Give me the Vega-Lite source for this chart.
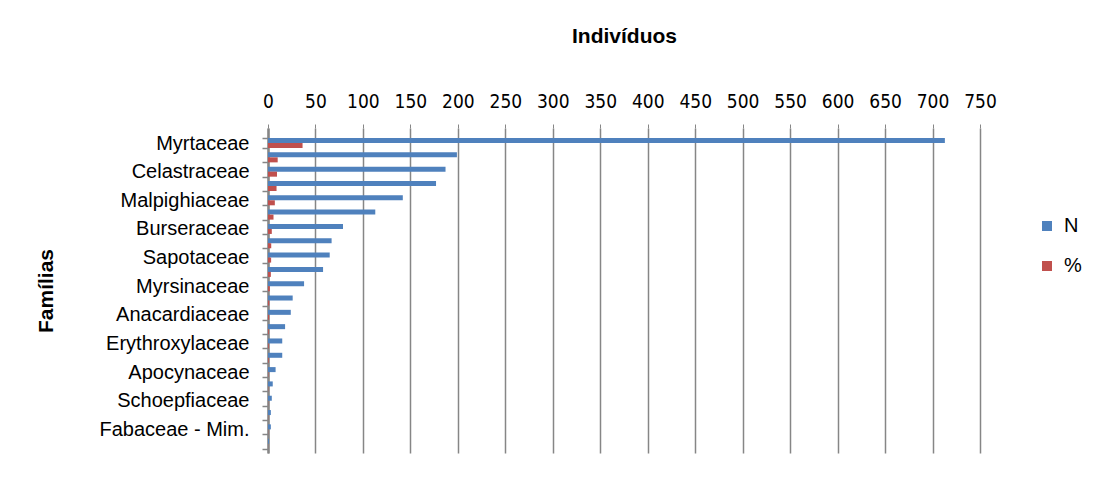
{
  "$schema": "https://vega.github.io/schema/vega-lite/v6.json",
  "autosize": "none",
  "width": 712,
  "height": 325,
  "padding": {"left": 268, "top": 128, "right": 115, "bottom": 24},
  "background": "white",
  "config": {
    "view": {"stroke": null},
    "font": "Liberation Sans",
    "axis": {"labelFont": "Liberation Sans", "titleFont": "Liberation Sans"}
  },
  "data": {
    "values": [
      {"familia": "Myrtaceae", "serie": "N", "valor": 713},
      {"familia": "Myrtaceae", "serie": "%", "valor": 36.4},
      {"familia": "Vochysiaceae", "serie": "N", "valor": 199},
      {"familia": "Vochysiaceae", "serie": "%", "valor": 10.2},
      {"familia": "Celastraceae", "serie": "N", "valor": 187},
      {"familia": "Celastraceae", "serie": "%", "valor": 9.5},
      {"familia": "Rubiaceae", "serie": "N", "valor": 177},
      {"familia": "Rubiaceae", "serie": "%", "valor": 9.0},
      {"familia": "Malpighiaceae", "serie": "N", "valor": 142},
      {"familia": "Malpighiaceae", "serie": "%", "valor": 7.2},
      {"familia": "Lauraceae", "serie": "N", "valor": 113},
      {"familia": "Lauraceae", "serie": "%", "valor": 5.8},
      {"familia": "Burseraceae", "serie": "N", "valor": 79},
      {"familia": "Burseraceae", "serie": "%", "valor": 4.0},
      {"familia": "Annonaceae", "serie": "N", "valor": 67},
      {"familia": "Annonaceae", "serie": "%", "valor": 3.4},
      {"familia": "Sapotaceae", "serie": "N", "valor": 65},
      {"familia": "Sapotaceae", "serie": "%", "valor": 3.3},
      {"familia": "Melastomataceae", "serie": "N", "valor": 58},
      {"familia": "Melastomataceae", "serie": "%", "valor": 3.0},
      {"familia": "Myrsinaceae", "serie": "N", "valor": 38},
      {"familia": "Myrsinaceae", "serie": "%", "valor": 1.9},
      {"familia": "Euphorbiaceae", "serie": "N", "valor": 26},
      {"familia": "Euphorbiaceae", "serie": "%", "valor": 1.3},
      {"familia": "Anacardiaceae", "serie": "N", "valor": 24},
      {"familia": "Anacardiaceae", "serie": "%", "valor": 1.2},
      {"familia": "Salicaceae", "serie": "N", "valor": 18},
      {"familia": "Salicaceae", "serie": "%", "valor": 0.9},
      {"familia": "Erythroxylaceae", "serie": "N", "valor": 15},
      {"familia": "Erythroxylaceae", "serie": "%", "valor": 0.8},
      {"familia": "Sapindaceae", "serie": "N", "valor": 15},
      {"familia": "Sapindaceae", "serie": "%", "valor": 0.8},
      {"familia": "Apocynaceae", "serie": "N", "valor": 8},
      {"familia": "Apocynaceae", "serie": "%", "valor": 0.4},
      {"familia": "Ochnaceae", "serie": "N", "valor": 5},
      {"familia": "Ochnaceae", "serie": "%", "valor": 0.3},
      {"familia": "Schoepfiaceae", "serie": "N", "valor": 4},
      {"familia": "Schoepfiaceae", "serie": "%", "valor": 0.2},
      {"familia": "Connaraceae", "serie": "N", "valor": 3},
      {"familia": "Connaraceae", "serie": "%", "valor": 0.2},
      {"familia": "Fabaceae - Mim.", "serie": "N", "valor": 3},
      {"familia": "Fabaceae - Mim.", "serie": "%", "valor": 0.2},
      {"familia": "Fabaceae - Caes.", "serie": "N", "valor": 1},
      {"familia": "Fabaceae - Caes.", "serie": "%", "valor": 0.1}
    ]
  },
  "mark": {"type": "bar"},
  "encoding": {
    "y": {
      "field": "familia",
      "type": "nominal",
      "sort": null,
      "scale": {"paddingInner": 0.3, "paddingOuter": 0.5, "align": 0.7},
      "axis": {
        "title": "Famílias",
        "titleFontSize": 21,
        "titleFontWeight": "bold",
        "titleColor": "black",
        "titleBaseline": "alphabetic",
        "titleX": -216,
        "titleAngle": -90,
        "labelFontSize": 20,
        "labelColor": "black",
        "labelPadding": 13,
        "labelExpr": "round(datum.index*21) % 2 === 0 ? datum.label : ''",
        "tickBand": "extent",
        "tickSize": 6,
        "tickColor": "#868686",
        "tickWidth": 1.5,
        "domainColor": "#868686",
        "domainWidth": 2.5,
        "grid": false
      }
    },
    "yOffset": {"field": "serie", "type": "nominal", "scale": {"domain": ["N", "%"], "paddingInner": 0, "paddingOuter": 0}},
    "x": {
      "field": "valor",
      "type": "quantitative",
      "scale": {"domain": [0, 750], "nice": false},
      "axis": {
        "orient": "top",
        "title": "Indivíduos",
        "titleFontSize": 21,
        "titleFontWeight": "bold",
        "titleColor": "black",
        "titleBaseline": "alphabetic",
        "titleY": -86,
        "values": [0, 50, 100, 150, 200, 250, 300, 350, 400, 450, 500, 550, 600, 650, 700, 750],
        "labelFont": "Liberation Sans Narrow, Arial Narrow, DejaVu Sans Condensed, Liberation Sans",
        "labelFontSize": 19,
        "labelColor": "black",
        "labelPadding": 13,
        "labelFlush": false,
        "labelOverlap": false,
        "tickSize": 4,
        "tickColor": "#868686",
        "domain": false,
        "grid": true,
        "gridColor": "#868686",
        "gridWidth": 1.5
      }
    },
    "color": {
      "field": "serie",
      "type": "nominal",
      "scale": {"domain": ["N", "%"], "range": ["#4F81BD", "#C0504D"]},
      "legend": {
        "title": null,
        "orient": "none",
        "legendX": 769,
        "legendY": 88,
        "padding": 0,
        "symbolType": "square",
        "symbolSize": 100,
        "symbolStrokeWidth": 0,
        "labelFontSize": 20,
        "labelColor": "black",
        "labelOffset": 7,
        "rowPadding": 20
      }
    }
  }
}
